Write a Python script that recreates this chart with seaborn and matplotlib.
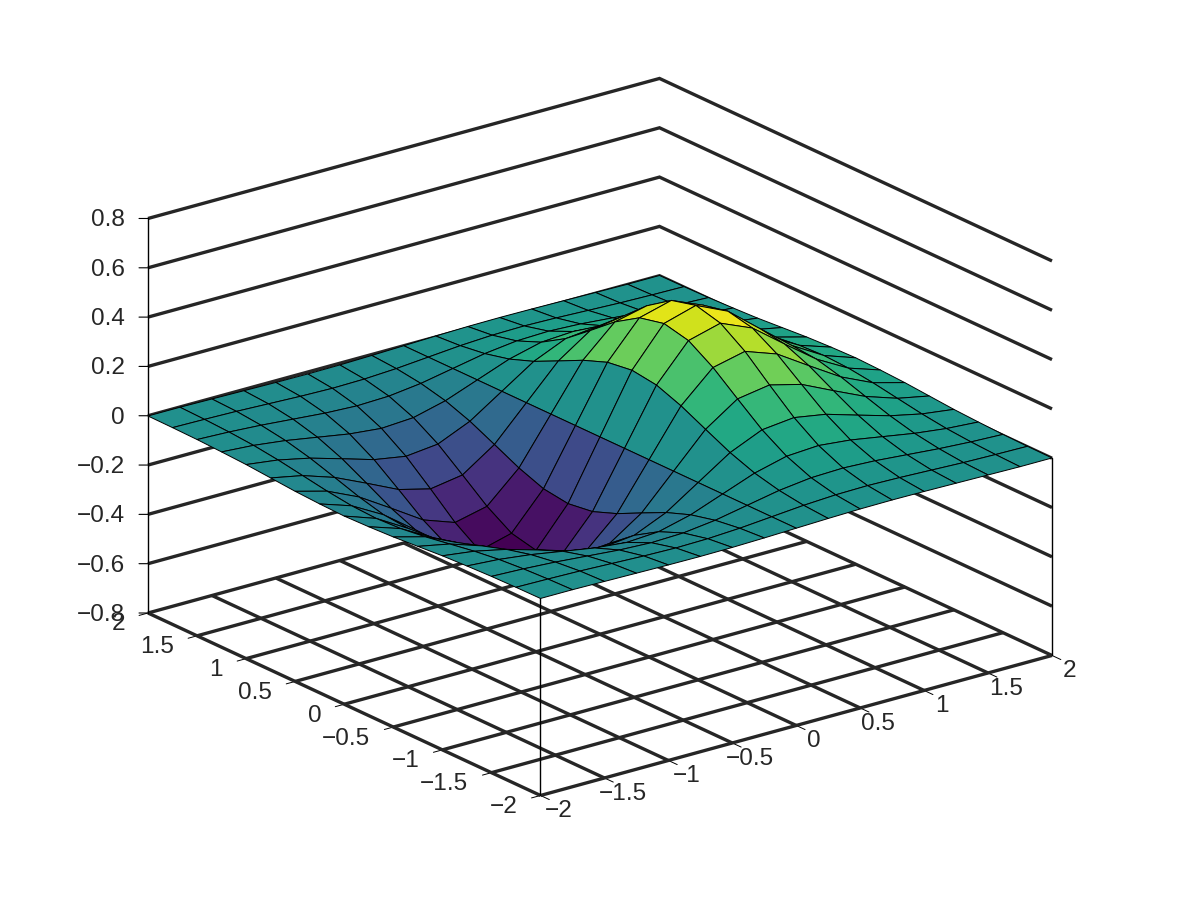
import matplotlib
matplotlib.use("Agg")
import numpy as np
import matplotlib.pyplot as plt
import seaborn as sns
from matplotlib.colors import Normalize
from mpl_toolkits.mplot3d import proj3d

x_values = [-2, -1.75, -1.5, -1.25, -1, -0.75, -0.5, -0.25, 0, 0.25, 0.5, 0.75, 1, 1.25, 1.5, 1.75, 2]
y_values = [-2, -1.75, -1.5, -1.25, -1, -0.75, -0.5, -0.25, 0, 0.25, 0.5, 0.75, 1, 1.25, 1.5, 1.75, 2]

z_y_m200 = [-.001, -.001, -.003, -.005, -.007, -.008, -.007, -.004, 0, .004, .007, .008, .007, .005, .003, .001, .001]
z_y_m175 = [-.002, -.004, -.007, -.012, -.017, -.020, -.018, -.011, 0, .011, .018, .020, .017, .012, .007, .004, .002]
z_y_m150 = [-.004, -.009, -.017, -.028, -.039, -.045, -.041, -.025, 0, .025, .041, .045, .039, .028, .017, .009, .004]
z_y_m125 = [-.008, -.017, -.033, -.055, -.077, -.090, -.082, -.049, 0, .049, .082, .090, .077, .055, .033, .017, .008]
z_y_m100 = [-.013, -.030, -.058, -.096, -.135, -.157, -.143, -.086, 0, .086, .143, .157, .135, .096, .058, .030, .013]
z_y_m075 = [-.021, -.047, -.090, -.149, -.210, -.243, -.222, -.134, 0, .134, .222, .243, .210, .149, .090, .047, .021]
z_y_m050 = [-.029, -.064, -.123, -.204, -.287, -.333, -.303, -.183, 0, .183, .303, .333, .287, .204, .123, .064, .029]
z_y_m025 = [-.034, -.077, -.149, -.246, -.346, -.401, -.366, -.221, 0, .221, .366, .401, .346, .246, .149, .077, .034]
z_y_000 = [-.037, -.082, -.158, -.262, -.368, -.427, -.389, -.235, 0, .235, .389, .427, .368, .262, .158, .082, .037]
z_y_p025 = [-.034, -.077, -.149, -.246, -.346, -.401, -.366, -.221, 0, .221, .366, .401, .346, .246, .149, .077, .034]
z_y_p050 = [-.029, -.064, -.123, -.204, -.287, -.333, -.303, -.183, 0, .183, .303, .333, .287, .204, .123, .064, .029]
z_y_p075 = [-.021, -.047, -.090, -.149, -.210, -.243, -.222, -.134, 0, .134, .222, .243, .210, .149, .090, .047, .021]
z_y_p100 = [-.013, -.030, -.058, -.096, -.135, -.157, -.143, -.086, 0, .086, .143, .157, .135, .096, .058, .030, .013]
z_y_p125 = [-.008, -.017, -.033, -.055, -.077, -.090, -.082, -.049, 0, .049, .082, .090, .077, .055, .033, .017, .008]
z_y_p150 = [-.004, -.009, -.017, -.028, -.039, -.045, -.041, -.025, 0, .025, .041, .045, .039, .028, .017, .009, .004]
z_y_p175 = [-.002, -.004, -.007, -.012, -.017, -.020, -.018, -.011, 0, .011, .018, .020, .017, .012, .007, .004, .002]
z_y_p200 = [-.001, -.001, -.003, -.005, -.007, -.008, -.007, -.004, 0, .004, .007, .008, .007, .005, .003, .001, .001]

xy_ticks = [-2, -1.5, -1, -0.5, 0, 0.5, 1, 1.5, 2]
xy_labels = ["\u22122", "\u22121.5", "\u22121", "\u22120.5", "0", "0.5", "1", "1.5", "2"]
z_ticks = [-0.8, -0.6, -0.4, -0.2, 0, 0.2, 0.4, 0.6, 0.8]
z_labels = ["\u22120.8", "\u22120.6", "\u22120.4", "\u22120.2", "0", "0.2", "0.4", "0.6", "0.8"]

sns.set_theme(style="white")
plt.rcParams["font.family"] = ["Liberation Sans", "DejaVu Sans"]

Z = np.array([z_y_m200, z_y_m175, z_y_m150, z_y_m125, z_y_m100, z_y_m075, z_y_m050, z_y_m025, z_y_000,
              z_y_p025, z_y_p050, z_y_p075, z_y_p100, z_y_p125, z_y_p150, z_y_p175, z_y_p200])
X, Y = np.meshgrid(x_values, y_values)
cmap = sns.color_palette("viridis", as_cmap=True)
norm = Normalize(Z.min(), Z.max())

INK = "#262626"
GRID_LW = 2.4
THIN_LW = 1.0
xmin, xmax = xy_ticks[0], xy_ticks[-1]
ymin, ymax = xy_ticks[0], xy_ticks[-1]
zmin, zmax = z_ticks[0], z_ticks[-1]

fig = plt.figure(figsize=(12, 9), dpi=100)
ax = fig.add_subplot(projection="3d", proj_type="ortho", computed_zorder=False)
AX_W, AX_H = 1.5, 2.0
ax.set_position([-0.25, -0.5, AX_W, AX_H])
ax.view_init(elev=20.9, azim=-127.5)
ax.set_xlim(xmin, xmax)
ax.set_ylim(ymin, ymax)
ax.set_zlim(zmin, zmax)
ax.set_axis_off()
fig.patch.set_facecolor("white")

BOX_H = 0.655


def to_px(x, y, z):
    u, v, _ = proj3d.proj_transform(x, y, z, ax.get_proj())
    return ax.transData.transform((u, v))


# fit the box to the figure: floor left corner to floor right corner, then centre
ax.set_box_aspect((1, 1, BOX_H), zoom=1.0)
ax.apply_aspect()
span = to_px(xmax, ymin, zmin)[0] - to_px(xmin, ymax, zmin)[0]
ax.set_box_aspect((1, 1, BOX_H), zoom=904.0 / span)
ax.apply_aspect()
left_px = to_px(xmin, ymax, zmin)
shift_x = (148.0 - left_px[0]) / 1200.0
shift_y = ((900.0 - 613.0) - left_px[1]) / 900.0
ax.set_position([-0.25 + shift_x, -0.5 + shift_y, AX_W, AX_H])
ax.apply_aspect()

# walls
for z in z_ticks[1:]:
    ax.plot([xmin, xmax, xmax], [ymax, ymax, ymin], [z, z, z], color=INK, lw=GRID_LW, zorder=1,
            solid_joinstyle="miter", solid_capstyle="butt")
# floor
for t in xy_ticks:
    ax.plot([t, t], [ymin, ymax], [zmin, zmin], color=INK, lw=GRID_LW, zorder=1, solid_capstyle="butt")
    ax.plot([xmin, xmax], [t, t], [zmin, zmin], color=INK, lw=GRID_LW, zorder=1, solid_capstyle="butt")
# corner posts
ax.plot([xmin, xmin], [ymax, ymax], [zmin, zmax], color="black", lw=THIN_LW, zorder=1.5)
ax.plot([xmin, xmin], [ymin, ymin], [zmin, 0], color="black", lw=THIN_LW, zorder=1.5)
ax.plot([xmax, xmax], [ymin, ymin], [zmin, 0], color="black", lw=THIN_LW, zorder=1.5)
# tick marks
for t in xy_ticks:
    ax.plot([t, t], [ymin, ymin - 0.09], [zmin, zmin], color="black", lw=0.7, zorder=0.9)
    ax.plot([xmin, xmin - 0.07], [t, t], [zmin, zmin], color="black", lw=0.7, zorder=0.9)
for z in z_ticks:
    ax.plot([xmin, xmin - 0.0443], [ymax, ymax + 0.0339], [z, z], color="black", lw=0.8, zorder=1.5)

ax.plot_surface(X, Y, Z, rstride=1, cstride=1, facecolors=cmap(norm(Z)), shade=False,
                edgecolor="black", linewidth=0.7, antialiased=True, zorder=2)

LABEL_SIZE = 17.6
for t, s in zip(xy_ticks, xy_labels):
    ax.annotate(s, xy=proj3d.proj_transform(t, ymin, zmin, ax.get_proj())[:2], xytext=(18, -16),
                textcoords="offset pixels", ha="center", va="center", fontsize=LABEL_SIZE, color=INK,
                annotation_clip=False, zorder=3)
    ax.annotate(s, xy=proj3d.proj_transform(xmin, t, zmin, ax.get_proj())[:2], xytext=(-23, -11.5),
                textcoords="offset pixels", ha="right", va="center", fontsize=LABEL_SIZE, color=INK,
                annotation_clip=False, zorder=3)
for z, s in zip(z_ticks, z_labels):
    ax.annotate(s, xy=proj3d.proj_transform(xmin, ymax, z, ax.get_proj())[:2], xytext=(-23, -2),
                textcoords="offset pixels", ha="right", va="center", fontsize=LABEL_SIZE, color=INK,
                annotation_clip=False, zorder=3)

fig.savefig("out.png", dpi=100)
